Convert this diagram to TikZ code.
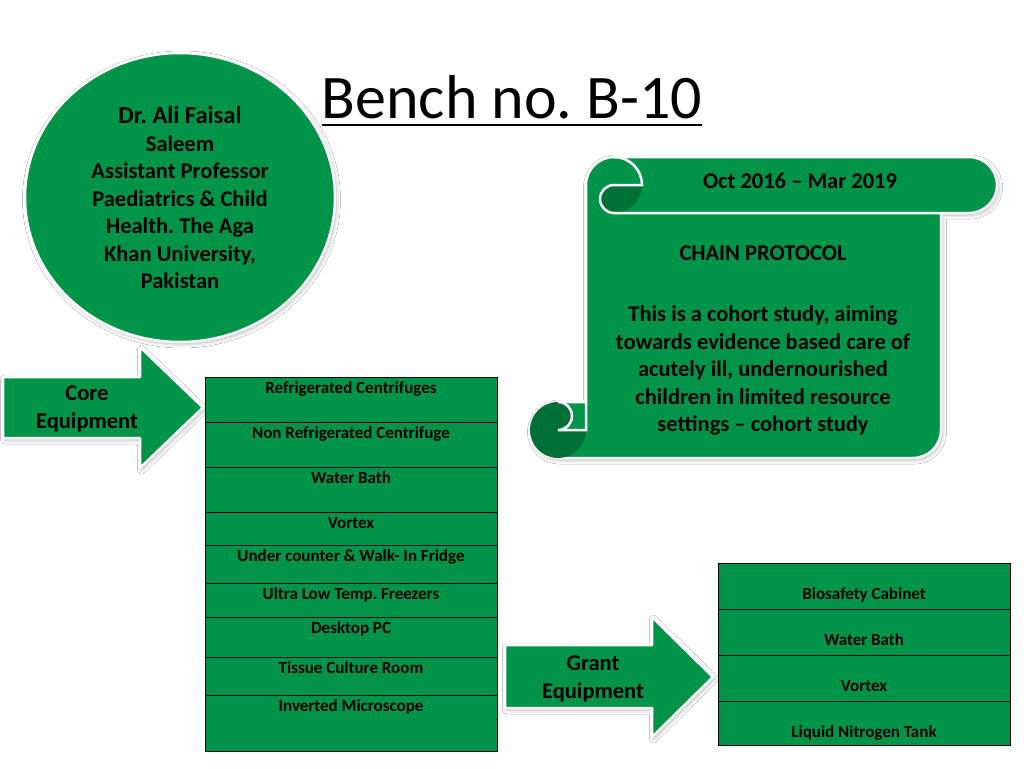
\documentclass[tikz,border=0pt]{standalone}
\usepackage{fontspec}
\setmainfont{Carlito}
\frenchspacing
\usetikzlibrary{positioning,shapes.geometric,shadows.blur}
\definecolor{leafgreen}{RGB}{0,148,72}
\definecolor{curlgreen}{RGB}{0,112,54}

\begin{document}
\begin{tikzpicture}[x=1pt, y=1pt,
    soft/.style={blur shadow={shadow xshift=1.5pt, shadow yshift=-2pt, shadow blur radius=4pt, shadow opacity=30}},
    greenshape/.style={fill=leafgreen, draw=white, line width=2.5pt, line join=round, soft},
    bold/.style={font=\fontsize{22.5}{27.5}\selectfont\bfseries, inner sep=0pt},
    corecell/.style={draw=black, line width=1pt, fill=leafgreen, minimum width=292pt, inner sep=0pt, outer sep=0pt, text height=16pt, font=\fontsize{17}{20}\selectfont\bfseries},
    grantcell/.style={corecell, text height=36.5pt}]
  \fill[white] (0,0) rectangle (1024,-768);
  \useasboundingbox (0,0) rectangle (1024,-768);

  % title
  \node[font=\fontsize{62}{74}\selectfont, inner sep=0pt, anchor=base] (title) at (512,-118) {Bench no. B-10};
  \draw[line width=2.5pt] ([yshift=-7pt]title.base west) -- ([yshift=-7pt]title.base east);

  % scroll
  \draw[greenshape] (586,-185) arc (180:90:28) -- (969,-157) arc (90:-90:28) -- (941,-213)
      -- (941,-430) arc (0:-90:28) -- (558,-458) arc (270:90:28) -- (586,-402) -- cycle;
  \fill[curlgreen] (642,-185) -- (614,-185) arc (90:270:14) arc (270:360:28) -- cycle;
  \draw[white, line width=2.5pt] (614,-157) arc (90:0:28) -- (614,-185) arc (90:270:14) -- (941,-213);
  \fill[curlgreen] (558,-402) arc (90:360:28) -- (558,-430) arc (-90:90:14) -- cycle;
  \draw[white, line width=2.5pt] (586,-402) -- (586,-430) -- (558,-430) arc (-90:90:14);
  \node[bold] (dates) at (800,-181) {Oct 2016 -- Mar 2019};
  \node[bold] (proto) at (763,-253) {CHAIN PROTOCOL};
  \node[bold, align=center] (aim) at (763,-371) {This is a cohort study, aiming\\ towards evidence based care of\\ acutely ill, undernourished\\ children in limited resource\\ settings -- cohort study};

  % arrows
  \draw[greenshape] (3,-377) -- (140,-377) -- (140,-347) -- (203,-407.5) -- (140,-468) -- (140,-438) -- (3,-438) -- cycle;
  \node[bold, align=center] (core) at (87,-409) {Core\\ Equipment};
  \draw[greenshape] (505,-645) -- (652,-645) -- (652,-617) -- (713,-677) -- (652,-737) -- (652,-708) -- (505,-708) -- cycle;
  \node[bold, align=center] (grant) at (593,-679) {Grant\\ Equipment};

  % professor
  \node[ellipse, greenshape, minimum width=310pt, minimum height=289pt, align=center, font=\fontsize{22.5}{27.5}\selectfont\bfseries] (prof) at (180,-197.5)
      {\fontsize{24.5}{30}\selectfont Dr. Ali Faisal\\ Saleem\\ \fontsize{22.5}{27.5}\selectfont Assistant Professor\\ Paediatrics \& Child\\ Health. The Aga\\ Khan University,\\ Pakistan};

  % core equipment
  \node[corecell, text depth=29pt, anchor=north] (c1) at (351,-377) {Refrigerated Centrifuges};
  \node[corecell, text depth=29pt, below=0pt of c1] (c2) {Non Refrigerated Centrifuge};
  \node[corecell, text depth=29pt, below=0pt of c2] (c3) {Water Bath};
  \node[corecell, text depth=17pt, below=0pt of c3] (c4) {Vortex};
  \node[corecell, text depth=22pt, below=0pt of c4] (c5) {Under counter \& Walk- In Fridge};
  \node[corecell, text depth=18pt, below=0pt of c5] (c6) {Ultra Low Temp. Freezers};
  \node[corecell, text depth=24pt, below=0pt of c6] (c7) {Desktop PC};
  \node[corecell, text depth=22pt, below=0pt of c7] (c8) {Tissue Culture Room};
  \node[corecell, text depth=40pt, below=0pt of c8] (c9) {Inverted Microscope};

  % grant equipment
  \node[grantcell, text depth=9.5pt, anchor=north] (g1) at (864,-563) {Biosafety Cabinet};
  \node[grantcell, text depth=9.5pt, below=0pt of g1] (g2) {Water Bath};
  \node[grantcell, text depth=9.5pt, below=0pt of g2] (g3) {Vortex};
  \node[grantcell, text depth=7.5pt, below=0pt of g3] (g4) {Liquid Nitrogen Tank};
\end{tikzpicture}
\end{document}
